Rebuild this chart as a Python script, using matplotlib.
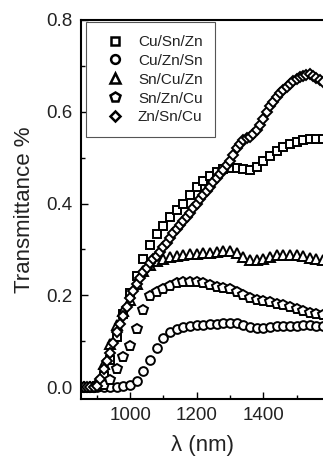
import matplotlib
matplotlib.use('Agg')
import matplotlib.pyplot as plt

plt.rcParams['font.family'] = ['Liberation Sans', 'DejaVu Sans']

# wavelength grid (nm)
wavelength = [860, 880, 900, 920, 940, 960, 980, 1000,
              1020, 1040, 1060, 1080, 1100, 1120, 1140, 1160, 1180, 1200,
              1220, 1240, 1260, 1280, 1300, 1320, 1340, 1360, 1380, 1400,
              1420, 1440, 1460, 1480, 1500, 1520, 1540, 1560, 1580]
# Zn/Sn/Cu was sampled more densely
wavelength_fine = [860, 870, 880, 890, 900, 910, 920, 930, 940, 950,
                   960, 970, 980, 990, 1000, 1010, 1020, 1030, 1040, 1050,
                   1060, 1070, 1080, 1090, 1100, 1110, 1120, 1130, 1140, 1150,
                   1160, 1170, 1180, 1190, 1200, 1210, 1220, 1230, 1240, 1250,
                   1260, 1270, 1280, 1290, 1300, 1310, 1320, 1330, 1340, 1350,
                   1360, 1370, 1380, 1390, 1400, 1410, 1420, 1430, 1440, 1450,
                   1460, 1470, 1480, 1490, 1500, 1510, 1520, 1530, 1540, 1550,
                   1560, 1570, 1580]

# transmittance
cu_sn_zn = [0, 0, 0.003, 0.025, 0.06, 0.11, 0.16, 0.205,
            0.243, 0.278, 0.309, 0.333, 0.352, 0.37, 0.385, 0.4, 0.418, 0.435,
            0.448, 0.46, 0.469, 0.476, 0.478, 0.478, 0.475, 0.472, 0.48, 0.493,
            0.503, 0.515, 0.524, 0.53, 0.535, 0.538, 0.54, 0.541, 0.541]
cu_zn_sn = [0, 0, 0, 0, 0, 0, 0.002, 0.004,
            0.014, 0.035, 0.06, 0.086, 0.106, 0.12, 0.127, 0.131, 0.133, 0.135,
            0.136, 0.137, 0.138, 0.139, 0.139, 0.139, 0.136, 0.131, 0.128, 0.129,
            0.131, 0.133, 0.134, 0.134, 0.134, 0.135, 0.135, 0.134, 0.134]
sn_cu_zn = [0, 0, 0.01, 0.05, 0.093, 0.135, 0.165, 0.19,
            0.225, 0.252, 0.266, 0.274, 0.279, 0.283, 0.286, 0.288, 0.29, 0.291,
            0.292, 0.293, 0.294, 0.296, 0.296, 0.292, 0.283, 0.277, 0.277, 0.28,
            0.284, 0.287, 0.288, 0.288, 0.288, 0.286, 0.282, 0.278, 0.276]
sn_zn_cu = [0, 0, 0, 0.004, 0.016, 0.04, 0.066, 0.09,
            0.126, 0.167, 0.198, 0.208, 0.214, 0.221, 0.226, 0.229, 0.23, 0.229,
            0.226, 0.222, 0.219, 0.216, 0.213, 0.208, 0.2, 0.193, 0.19, 0.188,
            0.185, 0.182, 0.179, 0.175, 0.17, 0.166, 0.162, 0.159, 0.157]
zn_sn_cu = [0, 0, 0, 0, 0.003, 0.018, 0.04, 0.057, 0.075, 0.097,
            0.12, 0.138, 0.155, 0.175, 0.195, 0.21, 0.225, 0.238, 0.25, 0.26,
            0.27, 0.278, 0.286, 0.295, 0.305, 0.315, 0.325, 0.335, 0.345, 0.353,
            0.362, 0.371, 0.38, 0.39, 0.4, 0.409, 0.418, 0.428, 0.437, 0.446,
            0.455, 0.464, 0.473, 0.483, 0.493, 0.506, 0.52, 0.53, 0.538, 0.542,
            0.545, 0.551, 0.56, 0.572, 0.585, 0.599, 0.612, 0.622, 0.632, 0.64,
            0.648, 0.654, 0.66, 0.666, 0.672, 0.675, 0.678, 0.68, 0.682, 0.678,
            0.674, 0.669, 0.664]

series = [('Cu/Sn/Zn', wavelength, cu_sn_zn, 's', 5.6),
          ('Cu/Zn/Sn', wavelength, cu_zn_sn, 'o', 6.3),
          ('Sn/Cu/Zn', wavelength, sn_cu_zn, '^', 6.8),
          ('Sn/Zn/Cu', wavelength, sn_zn_cu, 'p', 7.0),
          ('Zn/Sn/Cu', wavelength_fine, zn_sn_cu, 'D', 5.5)]

fig = plt.figure(figsize=(3.23, 4.65), dpi=100)
ax = fig.add_axes([0.251, 0.142, 0.753, 0.815])

for name, wl, vals, mk, ms in series:
    ax.plot(wl, vals, linestyle='none', marker=mk, markersize=ms,
            markerfacecolor='white', markeredgecolor='black',
            markeredgewidth=1.4, label=name)

ax.set_xlim(852.6, 1583.5)
ax.set_ylim(-0.026, 0.8)
ax.set_xticks([1000, 1200, 1400])
ax.set_xticks([900, 1100, 1300, 1500], minor=True)
ax.set_yticks([0.0, 0.2, 0.4, 0.6, 0.8])
ax.set_yticklabels(['0.0', '0.2', '0.4', '0.6', '0.8'])
ax.set_yticks([0.1, 0.3, 0.5, 0.7], minor=True)

ax.tick_params(which='both', direction='in', width=1.0, labelsize=13.5,
               labelcolor='#222222', pad=6)
ax.tick_params(which='major', length=5)
ax.tick_params(which='minor', length=3)
ax.tick_params(axis='x', top=False)
ax.tick_params(axis='y', right=False)

for sp in ax.spines.values():
    sp.set_linewidth(1.5)
ax.spines['right'].set_visible(False)

ax.set_ylabel('Transmittance %', fontsize=16, color='#222222', labelpad=8)
ax.set_xlabel('λ (nm)', fontsize=16, color='#222222', labelpad=8)

leg = ax.legend(loc='upper left', bbox_to_anchor=(0.02, 0.995), borderaxespad=0,
                fontsize=11, numpoints=1, handlelength=2.1, handletextpad=0.45,
                labelspacing=0.32, borderpad=0.85, fancybox=False, framealpha=1)
leg.get_frame().set_edgecolor('#555555')
leg.get_frame().set_linewidth(0.8)
for h in leg.legend_handles:
    h.set_markeredgewidth(1.8)
for t in leg.get_texts():
    t.set_color('#222222')

fig.savefig('out.png', dpi=100)
